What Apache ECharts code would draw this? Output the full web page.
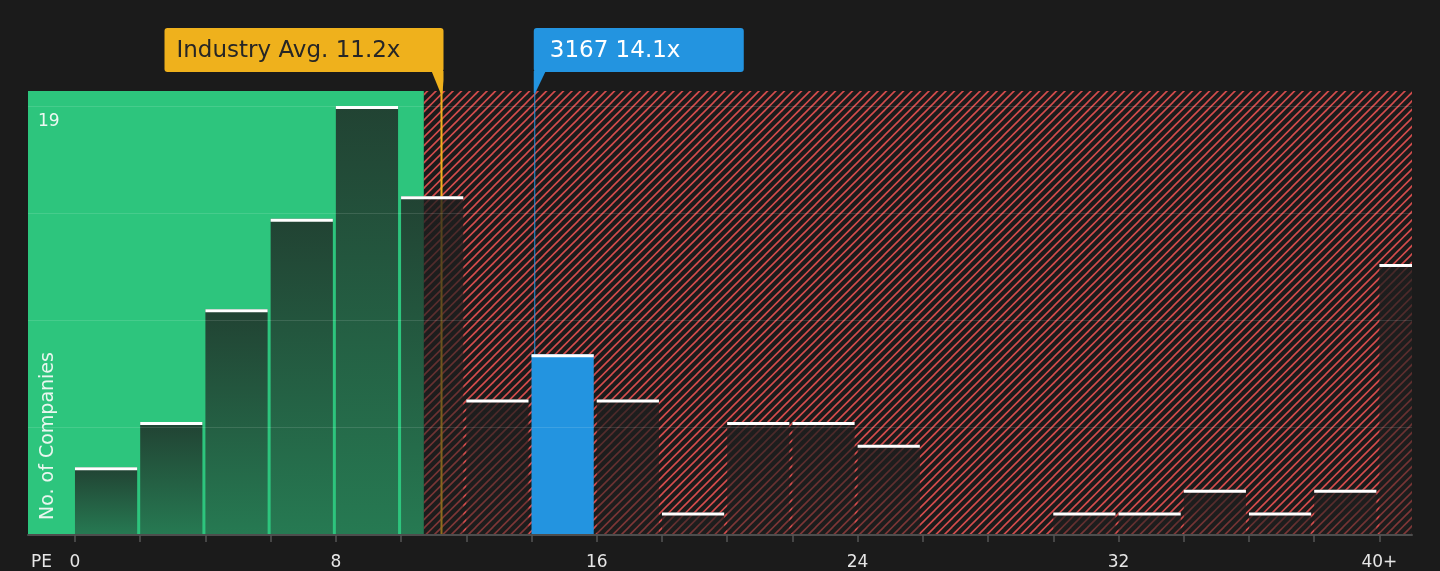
<!DOCTYPE html>
<html>
<head>
<meta charset="utf-8">
<script src="https://cdn.jsdelivr.net/npm/echarts@6/dist/echarts.min.js"></script>
<style>
html,body{margin:0;padding:0;background:#1b1b1b;}
#c{width:1440px;height:571px;}
</style>
</head>
<body>
<div id="c"></div>
<script>
// ---- data ----
const binStarts = [0,2,4,6,8,10,12,14,16,18,20,22,24,26,28,30,32,34,36,38,40];
const binWidth = 2;
const companyCounts = [3,5,10,14,19,15,6,8,6,1,5,5,4,0,0,1,1,2,1,2,12];
const xTickValues = [0,2,4,6,8,10,12,14,16,18,20,22,24,26,28,30,32,34,36,38,40];
const xLabelValues = [0,8,16,24,32,40];
const yLabelValues = [19];
const industryAvg = 11.24;
const companyPE = 14.1;
const companyName = '3167';
const greenZoneEnd = 10.7;

// ---- axis ranges ----
const xMin = -1.44, xMax = 41;
const yMax = 19.66, yInterval = 4.75;

const FONT = 'DejaVu Sans';
const BG = '#1b1b1b';
const GREEN = '#2dc57d';
const BLUE = '#2394e0';
const ORANGE = '#efb11c';

// hatch pattern (period 8.5 px, two lines per 17px tile)
const tile = document.createElement('canvas');
tile.width = 17; tile.height = 17;
(function(){
  const ctx = tile.getContext('2d');
  ctx.fillStyle = BG; ctx.fillRect(0,0,17,17);
  ctx.strokeStyle = '#d44d4d';
  ctx.lineWidth = 1.6;
  for (const k of [-17,-8.5,0,8.5,17]) {
    ctx.beginPath();
    ctx.moveTo(k-1, 18);
    ctx.lineTo(k+18, -1);
    ctx.stroke();
  }
})();

const barData = binStarts.map((s,i)=>[s, s+binWidth, companyCounts[i]]);

const chart = echarts.init(document.getElementById('c'));

const barGradient = new echarts.graphic.LinearGradient(0,0,0,1,[
  {offset:0, color:'rgba(30,30,30,0.78)'},
  {offset:1, color:'rgba(30,30,30,0.45)'}
]);

chart.setOption({
  backgroundColor: BG,
  animation: false,
  grid: {left:28, right:28, top:91, bottom:36},
  xAxis: {
    type:'value', min:xMin, max:xMax, z:6,
    axisLine:{show:true, onZero:false, lineStyle:{color:'#4d4d4d', width:2}},
    axisTick:{show:true, customValues:xTickValues, length:7, lineStyle:{color:'#555555', width:1.5}},
    axisLabel:{customValues:xLabelValues, formatter:v=> (v===40?'40+':String(v)),
      color:'#e6e6e6', fontSize:17, fontFamily:FONT, margin:19},
    splitLine:{show:false}
  },
  yAxis: {
    type:'value', min:0, max:yMax, interval:yInterval, z:6,
    axisLine:{show:false}, axisTick:{show:false},
    axisLabel:{inside:true, customValues:yLabelValues, color:'#eef8f2', fontSize:17,
      fontFamily:FONT, margin:10, verticalAlign:'top', padding:[7,0,0,0]},
    splitLine:{show:true, showMinLine:false, showMaxLine:false,
      lineStyle:{color:'rgba(255,255,255,0.12)', width:1}}
  },
  series: [
    {
      type:'line', data:[], z:1, silent:true,
      markArea:{
        silent:true, label:{show:false},
        data:[
          [{xAxis:xMin, itemStyle:{color:GREEN}}, {xAxis:greenZoneEnd}],
          [{xAxis:greenZoneEnd, itemStyle:{color:{image:tile, repeat:'repeat'}}}, {xAxis:xMax}]
        ]
      }
    },
    {
      type:'custom', z:5, silent:true,
      data: barData,
      renderItem:(params, api)=>{
        const s = api.value(0), e = api.value(1), v = api.value(2);
        if (!v) return null;
        const tl = api.coord([s, v]);
        const br = api.coord([e, 0]);
        const cs = params.coordSys;
        const area = {x:cs.x, y:cs.y, width:cs.width, height:cs.height};
        const body = echarts.graphic.clipRectByRect(
          {x:tl[0], y:tl[1], width:br[0]-tl[0]-3, height:br[1]-tl[1]}, area);
        const cap = echarts.graphic.clipRectByRect(
          {x:tl[0], y:tl[1], width:br[0]-tl[0]-3, height:3}, area);
        const isCo = companyPE >= s && companyPE < e;
        return {type:'group', children:[
          {type:'rect', shape:body, style:{fill: isCo ? BLUE : barGradient}},
          {type:'rect', shape:cap, style:{fill:'#ffffff'}}
        ]};
      }
    }
  ]
});

// ---- annotations placed through the axis scales ----
const xo = chart.convertToPixel({xAxisIndex:0}, industryAvg);
const xc = chart.convertToPixel({xAxisIndex:0}, companyPE);
const yBase = chart.convertToPixel({yAxisIndex:0}, 0);
const boxTop = 28, boxBot = 72, tip = 93;
const oRight = xo + 2, oLeft = oRight - 279;
const bLeft = xc - 1, bRight = bLeft + 210;

chart.setOption({
  graphic: [
    {type:'line', z:3, silent:true, shape:{x1:xo, y1:boxBot, x2:xo, y2:yBase},
      style:{stroke:ORANGE, lineWidth:2}},
    {type:'line', z:3, silent:true, shape:{x1:xc, y1:boxBot, x2:xc, y2:yBase},
      style:{stroke:BLUE, lineWidth:1}},
    {type:'rect', z:20, shape:{x:oLeft, y:boxTop, width:oRight-oLeft, height:boxBot-boxTop, r:3},
      style:{fill:ORANGE}},
    {type:'polygon', z:20, shape:{points:[[oRight-12,boxBot-1],[oRight,boxBot-1],[oRight,boxBot+8],[xo+1,tip],[xo-1,tip]]},
      style:{fill:ORANGE}},
    {type:'text', z:21, x:oLeft+12, y:(boxTop+boxBot)/2+1,
      style:{text:'Industry Avg. ' + industryAvg.toFixed(1) + 'x', fill:'#262626',
        font:'23px "DejaVu Sans"', align:'left', verticalAlign:'middle'}},
    {type:'rect', z:20, shape:{x:bLeft, y:boxTop, width:bRight-bLeft, height:boxBot-boxTop, r:3},
      style:{fill:BLUE}},
    {type:'polygon', z:20, shape:{points:[[bLeft,boxBot-1],[bLeft+12,boxBot-1],[xc+0.5,tip],[bLeft,tip]]},
      style:{fill:BLUE}},
    {type:'text', z:21, x:bLeft+16, y:(boxTop+boxBot)/2+1,
      style:{text:companyName + ' ' + companyPE.toFixed(1) + 'x', fill:'#ffffff',
        font:'23px "DejaVu Sans"', align:'left', verticalAlign:'middle'}},
    {type:'text', z:21, x:48, y:520, rotation:Math.PI/2,
      style:{text:'No. of Companies', fill:'#eaf6ef', font:'19px "DejaVu Sans"',
        align:'left', verticalAlign:'middle'}},
    {type:'text', z:21, x:31, y:563,
      style:{text:'PE', fill:'#e6e6e6', font:'17px "DejaVu Sans"',
        align:'left', verticalAlign:'middle'}}
  ]
});
</script>
</body>
</html>
